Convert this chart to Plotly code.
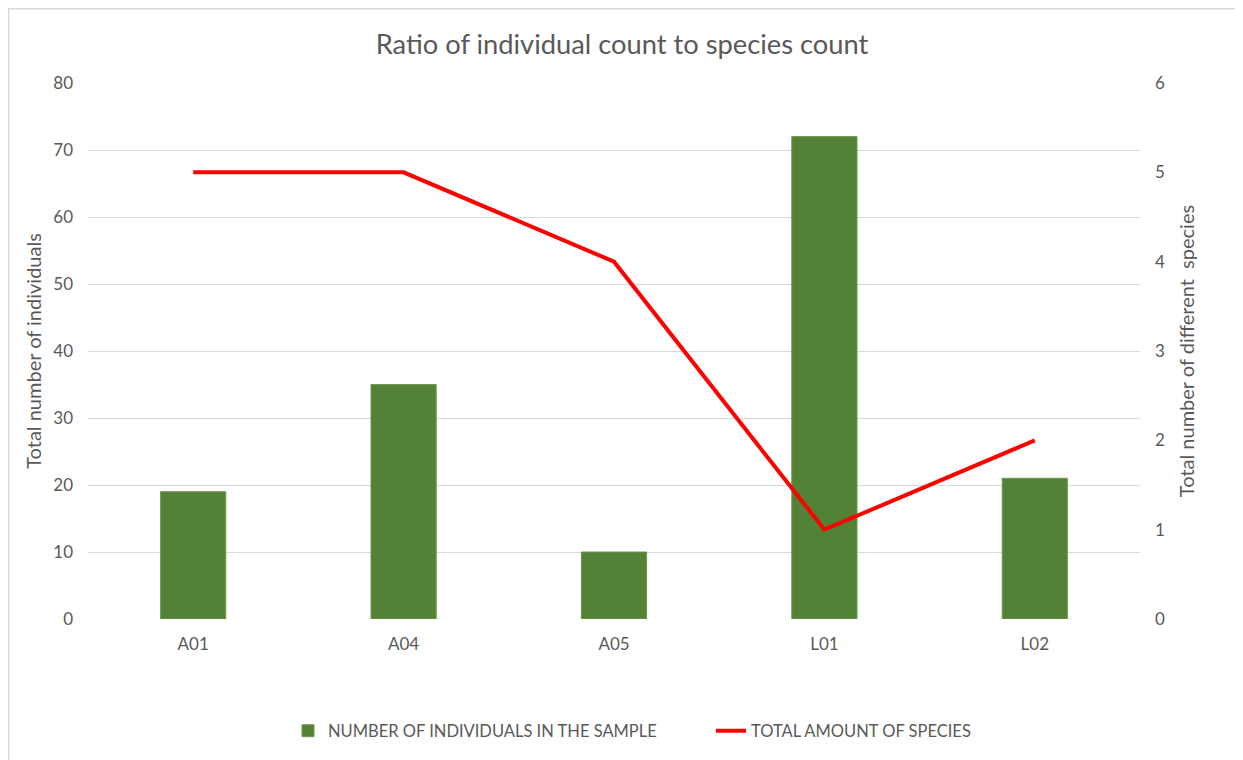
import plotly.graph_objects as go

categories = ["A01", "A04", "A05", "L01", "L02"]
individuals = [19, 35, 10, 72, 21]
species = [5, 5, 4, 1, 2]
left_ticks = [0, 10, 20, 30, 40, 50, 60, 70, 80]
right_ticks = [0, 1, 2, 3, 4, 5, 6]

FONT = "Lato, Open Sans, sans-serif"
GRAY = "#595959"

W, H = 1235, 752
L, R, T, B = 80, 103, 75, 141
PW, PH = W - L - R, H - T - B

fig = go.Figure()
fig.add_trace(go.Bar(
    x=categories, y=individuals, name="NUMBER OF INDIVIDUALS IN THE SAMPLE",
    marker=dict(color="#538135", line=dict(color="#6f9a4c", width=1)),
    width=0.31, yaxis="y"))
fig.add_trace(go.Scatter(
    x=categories, y=species, name="TOTAL AMOUNT OF SPECIES", mode="lines",
    line=dict(color="#ff0000", width=4), yaxis="y2"))

fig.update_layout(
    width=W, height=H,
    margin=dict(l=L, r=R, t=T, b=B),
    paper_bgcolor="white", plot_bgcolor="white",
    font=dict(family=FONT, color=GRAY, size=17),
    title=dict(text="Ratio of individual count to species count", x=(622 - 8) / W, xanchor="center",
               y=1 - 36 / H, yanchor="middle",
               font=dict(size=27.3, color=GRAY, family=FONT)),
    xaxis=dict(showgrid=False, showline=False, ticks="", ticklabelstandoff=13,
               tickfont=dict(size=17, color=GRAY)),
    yaxis=dict(range=[0, 80], tickvals=left_ticks, showgrid=True, gridcolor="#d9d9d9",
               gridwidth=1, zeroline=False, ticks="", ticklabelstandoff=14,
               title=dict(text="Total number of individuals", font=dict(size=20, color=GRAY), standoff=6),
               tickfont=dict(size=17, color=GRAY)),
    yaxis2=dict(range=[0, 6], tickvals=right_ticks, overlaying="y", side="right",
                showgrid=False, zeroline=False, ticks="", ticklabelstandoff=14,
                title=dict(text="Total number of different  species", font=dict(size=20, color=GRAY), standoff=15),
                tickfont=dict(size=17, color=GRAY)),
    legend=dict(orientation="h", x=(288 - 8 - L) / PW, xanchor="left",
                y=(T + PH - (731 - 8)) / PH, yanchor="middle",
                font=dict(size=16.5, color=GRAY), entrywidth=378, entrywidthmode="pixels",
                traceorder="normal"),
    showlegend=True,
    shapes=[dict(type="rect", xref="paper", yref="paper",
                 x0=(0.75 - L) / PW, x1=(1230 - L) / PW,
                 y0=-0.3, y1=(T + PH - 0.75) / PH,
                 line=dict(color="#d9d9d9", width=1.5), fillcolor="rgba(0,0,0,0)", layer="below")],
)

fig.write_html("out.html")
